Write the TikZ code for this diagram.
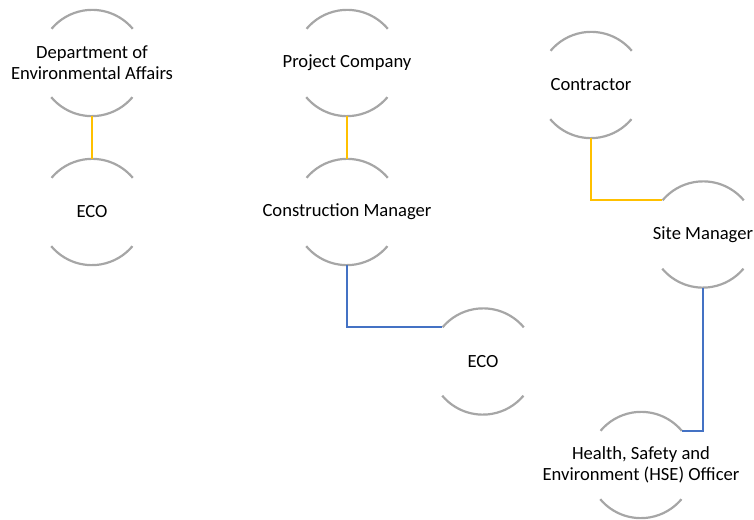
\documentclass[tikz,border=0pt]{standalone}
\usepackage{fontspec}
\setmainfont{Carlito}
\usetikzlibrary{positioning}
\definecolor{rimgray}{HTML}{A6A6A6}
\definecolor{linkgold}{HTML}{FFC000}
\definecolor{linkblue}{HTML}{4472C4}
\tikzstyle{member} = [circle, minimum size=106pt, inner sep=0pt, on grid]
\tikzstyle{caption} = [align=center, inner sep=0pt, font=\fontsize{18.6}{21}\selectfont]
\tikzstyle{rim} = [draw=rimgray, line width=2.2pt]
\tikzstyle{goldlink} = [draw=linkgold, line width=2.2pt]
\tikzstyle{bluelink} = [draw=linkblue, line width=2.2pt]

\begin{document}
\begin{tikzpicture}[x=1pt, y=1pt]
        \useasboundingbox (0,0) rectangle (754,519);

        \node[member, label={[caption]center:{Department of\\Environmental Affairs}}] (dea) at (92,456) {};
        \node[member, below=149pt of dea, label={[caption]center:ECO}]                  (ecoa) {};
        \node[member, right=255pt of dea, label={[caption]center:Project Company}]      (pco) {};
        \node[member, below=149pt of pco, label={[caption]center:Construction Manager}] (cman) {};
        \node[member, below right=149.5pt and 136pt of cman, label={[caption]center:ECO}] (ecob) {};
        \node[member, right=244pt of pco, yshift=-22pt, label={[caption]center:Contractor}] (ctr) {};
        \node[member, below right=149.5pt and 112pt of ctr, label={[caption]center:Site Manager}] (sman) {};
        \node[member, below left=230.5pt and 62pt of sman,
              label={[caption]center:{Health, Safety and\\Environment (HSE) Officer}}] (hse) {};

        % open rims: top and bottom arcs of every circle
        \foreach \n in {dea,ecoa,pco,cman,ecob,ctr,sman,hse} {
          \draw[rim] (\n.40)  arc[start angle=40,  end angle=140, radius=53pt];
          \draw[rim] (\n.220) arc[start angle=220, end angle=320, radius=53pt];
        }

        \path[goldlink] (dea.south)  -- (ecoa.north);
        \path[goldlink] (pco.south)  -- (cman.north);
        \path[goldlink] (ctr.south)  |- (sman.140);
        \path[bluelink] (cman.south) |- (ecob.140);
        \path[bluelink] (sman.south) |- (hse.40);
\end{tikzpicture}
\end{document}
